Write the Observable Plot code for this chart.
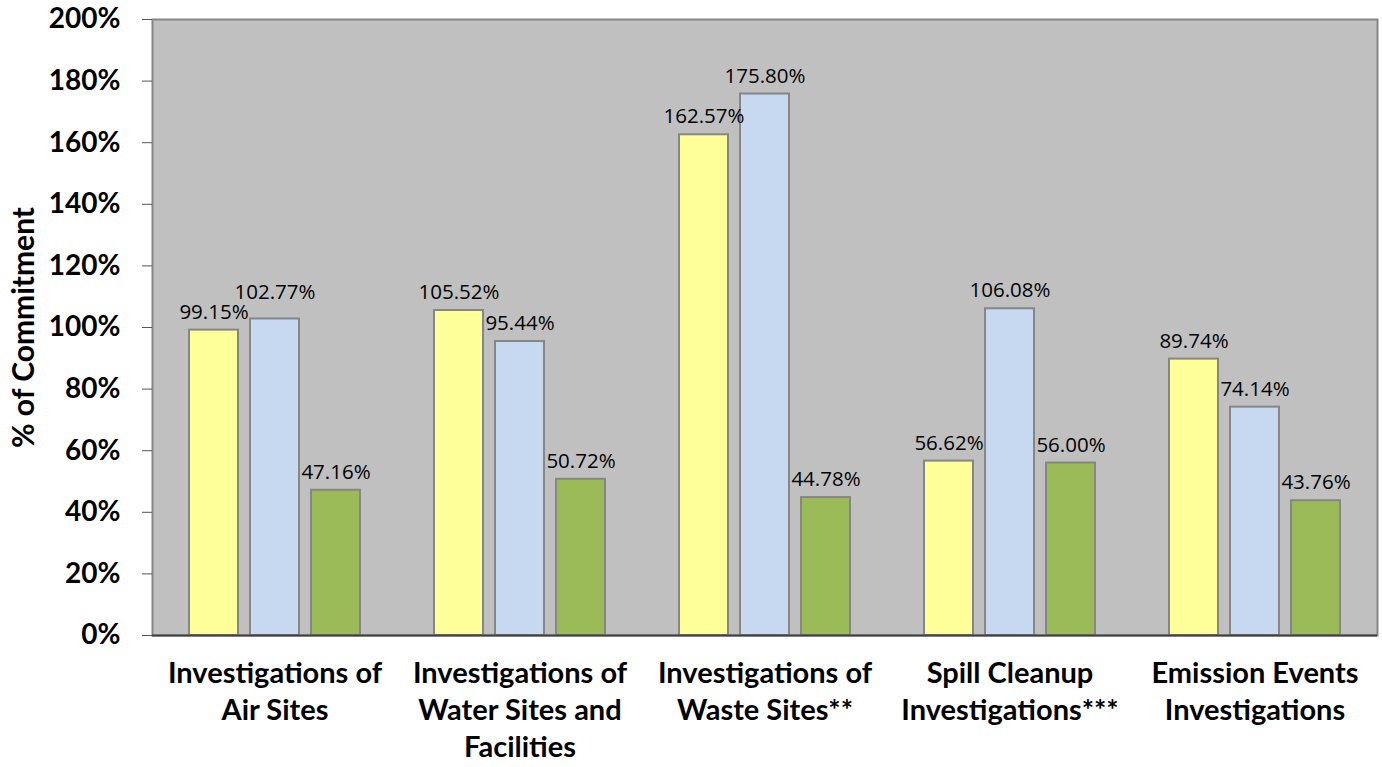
<!DOCTYPE html>
<html>
<head>
<meta charset="utf-8">
<script src="https://cdn.jsdelivr.net/npm/d3@7"></script>
<script src="https://cdn.jsdelivr.net/npm/@observablehq/plot@0.6"></script>
<style>
  html, body { margin: 0; padding: 0; background: #fff; }
  #chart svg { display: block; }
</style>
</head>
<body>
<div id="chart"></div>
<script>
const categories = [
  "Investigations of Air Sites",
  "Investigations of Water Sites and Facilities",
  "Investigations of Waste Sites**",
  "Spill Cleanup Investigations***",
  "Emission Events Investigations"
];
const categoryLabels = [
  "Investigations of\nAir Sites",
  "Investigations of\nWater Sites and\nFacilities",
  "Investigations of\nWaste Sites**",
  "Spill Cleanup\nInvestigations***",
  "Emission Events\nInvestigations"
];
const series = ["Series 1", "Series 2", "Series 3"];
const series1 = [0.9915, 1.0552, 1.6257, 0.5662, 0.8974];
const series2 = [1.0277, 0.9544, 1.7580, 1.0608, 0.7414];
const series3 = [0.4716, 0.5072, 0.4478, 0.5600, 0.4376];
const yTicks = [0, 0.2, 0.4, 0.6, 0.8, 1.0, 1.2, 1.4, 1.6, 1.8, 2.0];
const colors = ["#ffff99", "#c6d9f0", "#9bbb59"];

const seriesValues = [series1, series2, series3];
const data = [];
seriesValues.forEach((vals, si) => {
  vals.forEach((v, ci) => {
    // label would collide with the previous bar's label when values are very close
    const prev = si > 0 ? seriesValues[si - 1][ci] : null;
    const crowded = prev !== null && v > prev && v - prev < 0.06;
    data.push({category: categories[ci], series: series[si], value: v, crowded});
  });
});
const labelOf = new Map(categories.map((c, i) => [c, categoryLabels[i]]));

const font = "Lato, 'Open Sans', sans-serif";
const labelOpts = {fx: "category", x: "series", y: "value", text: d => d3.format(".2%")(d.value), fontSize: 20.5, fontFamily: "'Open Sans', sans-serif", fill: "#000"};

const chart = Plot.plot({
  width: 1382,
  height: 767,
  marginLeft: 150,
  marginRight: 4,
  marginTop: 19,
  marginBottom: 132,
  style: {fontFamily: font, background: "#fff"},
  fx: {domain: categories, paddingInner: 0, paddingOuter: 0, axis: null, label: null},
  x: {domain: series, paddingInner: 0.2, paddingOuter: 0.6, axis: null},
  y: {domain: [0, 2]},
  color: {domain: series, range: colors},
  marks: [
    Plot.frame({fill: "#c0c0c0", stroke: "#868686", strokeWidth: 2, facet: "super"}),
    Plot.axisY({
      ticks: yTicks,
      tickFormat: d3.format(".0%"),
      tickSize: 10,
      tickPadding: 22,
      stroke: "#555",
      fontSize: 28,
      fontWeight: "bold",
      fill: "#000",
      label: null
    }),
    Plot.axisY({
      ticks: [],
      fontSize: 30,
      fontWeight: "bold",
      fill: "#000",
      label: "% of Commitment",
      labelAnchor: "center",
      labelArrow: "none",
      labelOffset: 140
    }),
    Plot.barY(data, {fx: "category", x: "series", y: "value", fill: "series", stroke: "#868686", strokeWidth: 2}),
    Plot.text(data.filter(d => !d.crowded), {...labelOpts, dy: -18}),
    Plot.text(data.filter(d => d.crowded), {...labelOpts, dy: -27}),
    Plot.ruleY([0], {stroke: "#404040", strokeWidth: 2}),
    Plot.text(categories, {fx: d => d, text: d => labelOf.get(d), frameAnchor: "bottom", lineAnchor: "top", dy: 22, fontSize: 29, fontWeight: "bold", lineHeight: 1.26, fill: "#000"})
  ]
});
document.getElementById("chart").appendChild(chart);
</script>
</body>
</html>
